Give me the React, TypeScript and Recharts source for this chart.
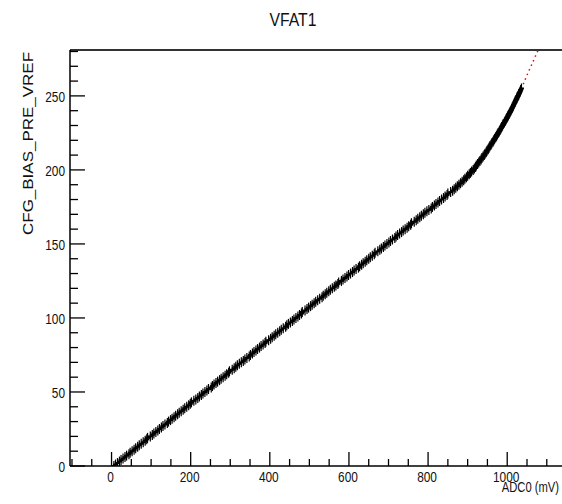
import React from "react";
import { ComposedChart, Scatter, XAxis, YAxis, ReferenceLine } from "recharts";

// ADC0 reading (mV) for each CFG_BIAS_PRE_VREF step 0..255
const adcValues = [
  6, 10, 15, 20, 24, 29, 34, 38, 44, 47, 52, 57, 61, 66, 70, 75, 80, 85, 89, 91,
  98, 103, 107, 112, 117, 121, 126, 130, 135, 141, 144, 149, 153, 158, 162, 167, 171, 176, 181, 185,
  190, 195, 199, 202, 208, 213, 218, 222, 227, 231, 236, 241, 245, 252, 255, 259, 264, 268, 273, 277,
  282, 287, 291, 296, 298, 305, 310, 314, 318, 323, 328, 333, 337, 342, 348, 351, 356, 360, 365, 369,
  374, 378, 383, 388, 390, 397, 402, 406, 411, 415, 420, 425, 429, 434, 440, 443, 447, 452, 457, 461,
  466, 471, 475, 480, 482, 489, 494, 498, 503, 507, 512, 516, 521, 526, 532, 535, 540, 544, 549, 553,
  558, 563, 567, 572, 574, 581, 585, 590, 595, 599, 604, 609, 613, 618, 624, 627, 632, 636, 641, 645,
  650, 654, 659, 664, 666, 673, 678, 682, 687, 691, 696, 701, 705, 710, 716, 719, 723, 728, 733, 737,
  742, 747, 751, 756, 758, 765, 770, 774, 779, 783, 788, 792, 797, 802, 808, 811, 816, 820, 825, 829,
  834, 839, 843, 848, 850, 857, 862, 866, 870, 874, 878,
  882, 886, 890, 893, 897, 900, 904, 907, 910, 914,
  917, 920, 922, 925, 928, 931, 934, 936, 939, 942,
  944, 947, 949, 952, 954, 956, 959, 961, 964, 966,
  968, 971, 973, 975, 977, 980, 982, 984, 986, 988,
  990, 993, 995, 997, 999, 1001, 1003, 1005, 1007, 1009,
  1011, 1013, 1015, 1016, 1018, 1020, 1022, 1024, 1025, 1027,
  1029, 1031, 1033, 1034, 1036,
];

// fit curve (red dotted)
const fitAdc = [6, 200, 400, 600, 800, 860, 900, 940, 980, 1010, 1036, 1050, 1065, 1080];
const fitDac = [0, 42.2, 85.7, 129.1, 172.6, 186, 196, 210, 226, 241, 255, 264, 273, 282];

const xTicks = [-100, -50, 0, 50, 100, 150, 200, 250, 300, 350, 400, 450, 500, 550, 600, 650, 700, 750, 800, 850, 900, 950, 1000, 1050, 1100];
const xMajor = [0, 200, 400, 600, 800, 1000];
const yTicks = [0, 10, 20, 30, 40, 50, 60, 70, 80, 90, 100, 110, 120, 130, 140, 150, 160, 170, 180, 190, 200, 210, 220, 230, 240, 250, 260, 270, 280];
const yMajor = [0, 50, 100, 150, 200, 250];

const points = adcValues.map((adc, dac) => ({ adc, dac }));
const fit = fitAdc.map((adc, i) => ({ adc, dac: fitDac[i] }));

const FONT = "'Liberation Sans Narrow', 'Liberation Sans', Arial, sans-serif";

const XTick = (props: any) => {
  const { x, y, payload } = props;
  const major = xMajor.includes(payload.value);
  const label = String(payload.value);
  return (
    <g>
      <line x1={x} y1={y} x2={x} y2={y - (major ? 14 : 7)} stroke="#000" strokeWidth={1.3} />
      {major && (
        <text x={x - 1} y={y + 16} textAnchor="middle" fontSize={14.5} fontFamily={FONT} fill="#111"
          textLength={label.length * 6.6} lengthAdjust="spacingAndGlyphs">
          {label}
        </text>
      )}
    </g>
  );
};

const YTick = (props: any) => {
  const { x, y, payload } = props;
  const major = yMajor.includes(payload.value);
  const label = String(payload.value);
  return (
    <g>
      <line x1={x} y1={y} x2={x + (major ? 15 : 8)} y2={y} stroke="#000" strokeWidth={1.3} />
      {major && (
        <text x={x - 5} y={y + 6} textAnchor="end" fontSize={14.5} fontFamily={FONT} fill="#111"
          textLength={label.length * 6.6} lengthAdjust="spacingAndGlyphs">
          {label}
        </text>
      )}
    </g>
  );
};

const Marker = (props: any) => {
  const { cx, cy } = props;
  if (cx == null || cy == null) return <g />;
  return (
    <g>
      <line x1={cx} y1={cy - 5} x2={cx} y2={cy + 5} stroke="#000" strokeWidth={1.2} />
      <line x1={cx - 2.5} y1={cy} x2={cx + 2.5} y2={cy} stroke="#000" strokeWidth={2} />
    </g>
  );
};

const App: React.FC = () => {
  return (
    <div style={{ position: "absolute", left: 0, top: 0, width: 562, height: 504, overflow: "hidden", background: "#fff" }}>
      <ComposedChart width={570} height={504} margin={{ top: 50, right: 7, bottom: 0, left: 0 }}>
        <XAxis
          type="number"
          dataKey="adc"
          domain={[-105, 1141]}
          allowDataOverflow
          ticks={xTicks}
          interval={0}
          height={38}
          tickSize={0}
          tickMargin={0}
          tickLine={false}
          tick={<XTick />}
          axisLine={{ stroke: "#000", strokeWidth: 1.5 }}
        />
        <YAxis
          type="number"
          dataKey="dac"
          domain={[0, 281]}
          allowDataOverflow
          ticks={yTicks}
          interval={0}
          width={70}
          tickSize={0}
          tickMargin={0}
          tickLine={false}
          tick={<YTick />}
          axisLine={{ stroke: "#000", strokeWidth: 1.5 }}
        />
        <ReferenceLine y={281} stroke="#333" strokeWidth={2} />
        <Scatter
          data={fit}
          isAnimationActive={false}
          line={{ stroke: "#ff0000", strokeWidth: 1.5, strokeDasharray: "1.5 3.5" }}
          shape={() => <g />}
        />
        <Scatter data={points} isAnimationActive={false} shape={<Marker />} />
      </ComposedChart>
      <svg width={562} height={504} style={{ position: "absolute", left: 0, top: 0, pointerEvents: "none" }}>
        <text x={293} y={26} textAnchor="middle" fontSize={18} fontFamily={FONT} fill="#111"
          textLength={47} lengthAdjust="spacingAndGlyphs">
          VFAT1
        </text>
        <g transform="translate(559, 492) scale(0.8, 1)">
          <text x={0} y={0} textAnchor="end" fontSize={14} fontFamily={FONT} fill="#111">
            ADC0 (mV)
          </text>
        </g>
        <text x={33} y={235} textAnchor="start" fontSize={14} fontFamily={FONT} fill="#111"
          transform="rotate(-90, 33, 235)" textLength={183} lengthAdjust="spacingAndGlyphs">
          CFG_BIAS_PRE_VREF
        </text>
      </svg>
    </div>
  );
};

export default App;
